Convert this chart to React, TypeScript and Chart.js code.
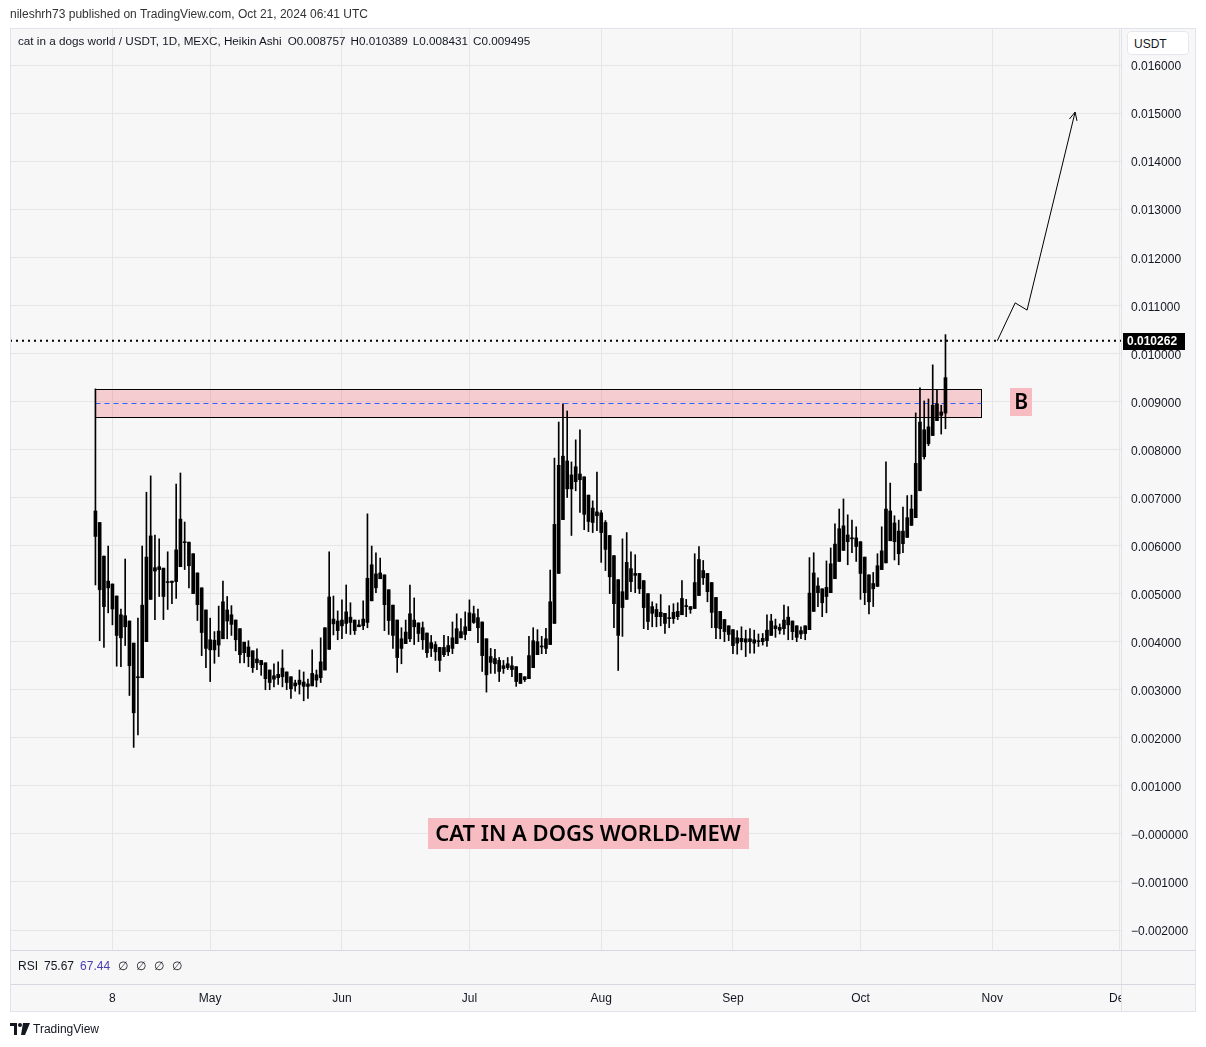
import React, { useEffect, useRef } from "react";
import { Chart, registerables } from "chart.js";

Chart.register(...registerables);

// Heikin Ashi daily candles, prices in thousandths of USDT (0.001). Day 0 = 2024-04-04.
const OPEN = [
  6.72, 6.48, 5.78, 5.26, 5.20, 4.95, 4.56, 4.31, 4.43, 3.97,
  3.25, 3.25, 4.00, 4.88, 5.54, 5.50, 5.53, 5.23, 5.26, 5.25,
  5.56, 6.06, 6.07, 5.83, 5.43, 5.12, 4.66, 4.04, 4.03, 3.93,
  4.06, 4.66, 4.56, 4.45, 4.27, 3.99, 3.89, 3.81, 3.64, 3.61,
  3.56, 3.41, 3.29, 3.25, 3.27, 3.37, 3.27, 3.14, 3.11, 3.16,
  3.12, 3.08, 3.31, 3.25, 3.41, 3.84, 4.47, 4.43, 4.33, 4.38,
  4.51, 4.45, 4.31, 4.33, 4.40, 4.85, 5.41, 5.31, 5.39, 5.08,
  4.76, 4.45, 4.06, 3.96, 4.06, 4.45, 4.39, 4.29, 4.18, 3.98,
  3.94, 3.88, 3.73, 3.92, 3.86, 3.96, 4.08, 4.15, 4.23, 4.40,
  4.50, 4.41, 4.06, 3.69, 3.65, 3.61, 3.50, 3.46, 3.50, 3.48,
  3.34, 3.27, 3.23, 3.46, 3.73, 3.89, 3.86, 3.94, 4.38, 5.42,
  6.54, 7.18, 7.47, 7.33, 7.49, 7.43, 7.05, 6.78, 6.62, 6.68,
  6.48, 6.21, 5.79, 5.29, 4.71, 4.88, 5.52, 5.42, 5.42, 5.27,
  5.00, 4.73, 4.67, 4.52, 4.59, 4.48, 4.48, 4.52, 4.56, 4.75,
  4.73, 4.69, 4.96, 5.48, 5.42, 5.23, 4.92, 4.63, 4.46, 4.33,
  4.25, 4.08, 4.00, 4.06, 4.00, 4.04, 4.00, 4.00, 4.02, 4.13,
  4.33, 4.30, 4.27, 4.35, 4.43, 4.33, 4.23, 4.17, 4.25, 4.63,
  5.16, 5.10, 4.94, 5.02, 5.31, 5.67, 5.90, 6.22, 6.14, 6.16,
  6.08, 5.76, 5.39, 5.10, 5.15, 5.50, 5.64, 6.10, 6.47, 6.30,
  6.04, 6.17, 6.42, 6.58, 7.14, 8.41, 8.12, 8.29, 8.60, 8.78,
  8.757,
];
const HIGH = [
  9.26, 6.48, 5.78, 5.99, 5.20, 4.95, 4.68, 5.72, 4.43, 3.97,
  4.49, 5.99, 7.11, 7.45, 6.22, 6.14, 5.53, 5.87, 5.26, 7.28,
  7.51, 6.49, 6.07, 5.83, 5.43, 5.12, 4.66, 4.49, 4.21, 4.74,
  5.26, 4.94, 4.75, 4.45, 4.27, 3.99, 4.02, 3.81, 3.85, 3.61,
  3.56, 3.41, 3.54, 3.58, 3.83, 3.37, 3.27, 3.20, 3.41, 3.37,
  3.22, 3.83, 3.41, 4.08, 4.29, 5.87, 4.95, 4.64, 4.87, 5.18,
  4.81, 4.45, 4.45, 4.85, 6.66, 5.99, 5.85, 5.74, 5.39, 5.08,
  4.76, 4.45, 4.29, 4.45, 5.18, 4.91, 4.39, 4.41, 4.18, 4.13,
  4.00, 3.88, 4.13, 4.11, 4.41, 4.58, 4.48, 4.62, 4.87, 4.74,
  4.68, 4.41, 4.06, 3.86, 3.84, 3.67, 3.61, 3.67, 3.69, 3.48,
  3.34, 3.27, 4.11, 4.29, 4.25, 4.11, 4.28, 5.49, 7.82, 8.57,
  8.95, 8.80, 7.74, 8.20, 8.41, 7.43, 7.05, 6.93, 7.53, 6.73,
  6.52, 6.21, 5.79, 5.29, 6.14, 6.27, 5.87, 5.81, 5.42, 5.27,
  5.00, 4.83, 4.79, 4.98, 4.59, 4.75, 4.79, 4.81, 5.27, 4.88,
  4.73, 5.83, 5.98, 5.69, 5.42, 5.23, 4.92, 4.63, 4.46, 4.33,
  4.25, 4.23, 4.31, 4.24, 4.27, 4.24, 4.16, 4.17, 4.56, 4.57,
  4.47, 4.37, 4.76, 4.73, 4.43, 4.33, 4.31, 4.33, 5.75, 5.85,
  5.33, 5.10, 5.68, 5.95, 6.45, 6.76, 6.97, 6.64, 6.53, 6.39,
  6.08, 5.76, 5.39, 5.44, 5.83, 6.39, 7.74, 7.30, 6.62, 6.53,
  6.80, 7.04, 7.05, 8.76, 9.28, 9.01, 9.05, 9.76, 9.24, 8.92,
  10.389,
];
const LOW = [
  5.18, 4.02, 3.88, 4.60, 4.35, 3.49, 3.48, 3.92, 2.88, 1.80,
  2.06, 3.25, 4.00, 4.88, 4.46, 4.94, 4.46, 4.67, 4.79, 4.90,
  5.56, 5.50, 5.12, 5.00, 4.44, 3.71, 3.46, 3.17, 3.55, 3.69,
  4.06, 4.06, 4.13, 3.81, 3.56, 3.56, 3.48, 3.36, 3.42, 3.30,
  3.00, 3.00, 3.06, 3.11, 3.06, 3.00, 2.82, 2.97, 2.91, 2.77,
  2.82, 3.08, 3.06, 3.15, 3.41, 3.84, 4.14, 4.04, 4.06, 4.17,
  4.15, 4.15, 4.31, 4.25, 4.29, 4.85, 5.02, 5.31, 4.23, 4.15,
  3.86, 3.36, 3.54, 3.96, 4.00, 3.94, 4.00, 3.84, 3.67, 3.69,
  3.61, 3.38, 3.69, 3.71, 3.75, 3.96, 4.08, 4.04, 4.23, 4.38,
  3.98, 3.38, 2.95, 3.34, 3.34, 3.17, 3.34, 3.42, 3.27, 3.07,
  3.13, 3.17, 3.23, 3.46, 3.73, 3.75, 3.75, 3.94, 4.38, 5.42,
  6.54, 7.00, 6.21, 7.14, 6.69, 6.33, 6.29, 6.27, 6.31, 5.65,
  5.48, 5.00, 4.29, 3.40, 4.11, 4.88, 5.04, 5.02, 5.00, 4.27,
  4.25, 4.31, 4.31, 4.33, 4.17, 4.29, 4.38, 4.46, 4.56, 4.52,
  4.59, 4.69, 4.96, 5.19, 4.83, 4.29, 4.06, 4.06, 4.00, 4.02,
  3.75, 3.74, 3.83, 3.69, 3.76, 3.76, 3.90, 3.93, 3.90, 4.13,
  4.09, 4.16, 4.15, 4.04, 4.04, 4.00, 4.06, 4.04, 4.25, 4.63,
  4.73, 4.52, 4.60, 5.02, 5.31, 5.67, 5.90, 5.60, 5.85, 5.67,
  4.88, 4.77, 4.58, 4.73, 5.15, 5.50, 5.64, 6.10, 5.70, 5.60,
  5.85, 6.17, 6.42, 6.58, 7.14, 7.80, 8.08, 8.29, 8.60, 8.32,
  8.431,
];
const CLOSE = [
  6.19, 5.08, 4.73, 5.12, 4.68, 4.13, 4.08, 4.54, 3.50, 2.52,
  3.27, 4.76, 5.76, 6.20, 5.47, 5.56, 4.94, 5.25, 5.23, 5.91,
  6.55, 6.08, 5.58, 5.00, 4.77, 4.19, 3.86, 3.83, 3.83, 4.22,
  4.83, 4.43, 4.36, 4.04, 3.73, 3.77, 3.69, 3.46, 3.56, 3.52,
  3.23, 3.15, 3.22, 3.32, 3.45, 3.15, 3.02, 3.08, 3.20, 3.07,
  3.07, 3.34, 3.20, 3.58, 4.29, 4.93, 4.37, 4.23, 4.45, 4.62,
  4.40, 4.23, 4.35, 4.47, 5.32, 5.60, 5.12, 5.43, 4.77, 4.44,
  4.13, 3.67, 3.86, 4.20, 4.58, 4.31, 4.17, 4.04, 3.77, 3.86,
  3.79, 3.61, 3.88, 3.79, 4.08, 4.27, 4.21, 4.31, 4.60, 4.58,
  4.29, 3.71, 3.31, 3.57, 3.54, 3.38, 3.44, 3.54, 3.42, 3.17,
  3.13, 3.21, 3.71, 4.02, 4.00, 3.91, 4.06, 4.83, 6.44, 7.67,
  7.86, 7.76, 7.18, 7.64, 7.37, 6.65, 6.50, 6.48, 6.70, 6.27,
  5.92, 5.35, 4.79, 4.13, 5.04, 5.65, 5.25, 5.38, 5.10, 4.71,
  4.42, 4.59, 4.52, 4.61, 4.38, 4.50, 4.61, 4.63, 4.90, 4.73,
  4.67, 5.23, 5.71, 5.33, 5.04, 4.61, 4.29, 4.27, 4.21, 4.15,
  3.92, 3.97, 4.07, 3.99, 4.06, 3.97, 4.02, 4.07, 4.24, 4.43,
  4.27, 4.24, 4.45, 4.51, 4.21, 4.09, 4.16, 4.33, 5.01, 5.43,
  5.02, 4.81, 5.13, 5.62, 6.03, 6.35, 6.41, 6.08, 6.16, 5.98,
  5.42, 5.02, 4.83, 5.21, 5.58, 5.89, 6.76, 6.72, 6.08, 5.83,
  6.30, 6.58, 6.76, 7.71, 8.57, 7.85, 8.47, 8.92, 8.95, 8.71,
  9.495,
];

// Axes
const X_MIN = -20.1;
const X_MAX = 241.3;
const X_TICK_POS = [4, 27, 58, 88, 119, 150, 180, 211, 241];
const X_TICK_LABELS = ["8", "May", "Jun", "Jul", "Aug", "Sep", "Oct", "Nov", "Dec"];
const Y_MIN = -2.416;
const Y_MAX = 16.77;
const Y_TICKS = [-2, -1, 0, 1, 2, 3, 4, 5, 6, 7, 8, 9, 10, 11, 12, 13, 14, 15, 16];
const Y_TICK_LABELS = [
  "\u22120.002000", "\u22120.001000", "\u22120.000000", "0.001000", "0.002000", "0.003000",
  "0.004000", "0.005000", "0.006000", "0.007000", "0.008000", "0.009000", "0.010000",
  "0.011000", "0.012000", "0.013000", "0.014000", "0.015000", "0.016000",
];

// Drawings
const ZONE_X = [0, 208.4];
const ZONE_Y = [8.68, 9.26];
const ZONE_MID = 8.97;
const LAST_PRICE = 10.262;
const LAST_PRICE_LABEL = "0.010262";
const ARROW_X = [212.2, 216.4, 219.2, 230.5];
const ARROW_Y = [10.262, 11.05, 10.9, 15.02];
const LABEL_B = { x: 217.8, y: 8.99, text: "B" };
const LABEL_TITLE = { x: 115.9, y: 0.0, text: "CAT IN A DOGS WORLD-MEW" };

const FONT = '"Liberation Sans", Arial, sans-serif';
const BG = "#f7f7f7";
const GRID = "#e6e6e6";

const decorPlugin = {
  id: "decor",
  beforeDraw(chart: any) {
    const { ctx, width, height } = chart;
    ctx.save();
    ctx.fillStyle = "#ffffff";
    ctx.fillRect(0, 0, width, height);
    ctx.fillStyle = BG;
    ctx.fillRect(10, 28, 1186, 984);
    ctx.restore();
  },
  beforeDatasetsDraw(chart: any) {
    const { ctx, chartArea } = chart;
    const xs = chart.scales.x;
    const ys = chart.scales.y;
    ctx.save();
    ctx.beginPath();
    ctx.rect(chartArea.left, chartArea.top, chartArea.right - chartArea.left, chartArea.bottom - chartArea.top);
    ctx.clip();
    const x0 = Math.round(xs.getPixelForValue(ZONE_X[0])) + 0.5;
    const x1 = Math.round(xs.getPixelForValue(ZONE_X[1])) + 0.5;
    const yT = Math.round(ys.getPixelForValue(ZONE_Y[1])) + 0.5;
    const yB = Math.round(ys.getPixelForValue(ZONE_Y[0])) + 0.5;
    ctx.fillStyle = "rgba(242, 54, 69, 0.22)";
    ctx.fillRect(x0, yT, x1 - x0, yB - yT);
    ctx.strokeStyle = "#000000";
    ctx.lineWidth = 1;
    ctx.strokeRect(x0, yT, x1 - x0, yB - yT);
    const ym = Math.round(ys.getPixelForValue(ZONE_MID)) + 0.5;
    ctx.strokeStyle = "#2962ff";
    ctx.setLineDash([5, 4]);
    ctx.beginPath();
    ctx.moveTo(x0, ym);
    ctx.lineTo(x1, ym);
    ctx.stroke();
    ctx.restore();
  },
  afterDatasetsDraw(chart: any) {
    const { ctx } = chart;
    const xs = chart.scales.x;
    const ys = chart.scales.y;
    ctx.save();
    // arrow head
    const n = ARROW_X.length;
    const px = xs.getPixelForValue(ARROW_X[n - 1]);
    const py = ys.getPixelForValue(ARROW_Y[n - 1]);
    const qx = xs.getPixelForValue(ARROW_X[n - 2]);
    const qy = ys.getPixelForValue(ARROW_Y[n - 2]);
    const ang = Math.atan2(py - qy, px - qx);
    const L = 9;
    ctx.strokeStyle = "#000";
    ctx.lineWidth = 1;
    ctx.beginPath();
    ctx.moveTo(px - L * Math.cos(ang - 0.45), py - L * Math.sin(ang - 0.45));
    ctx.lineTo(px, py);
    ctx.lineTo(px - L * Math.cos(ang + 0.45), py - L * Math.sin(ang + 0.45));
    ctx.stroke();

    // labels
    const drawLabel = (lab: any, font: string, w: number, h: number) => {
      const cx = xs.getPixelForValue(lab.x);
      const cy = ys.getPixelForValue(lab.y);
      ctx.fillStyle = "#f6bcc2";
      ctx.fillRect(Math.round(cx - w / 2), Math.round(cy - h / 2), w, h);
      ctx.fillStyle = "#000";
      ctx.font = font;
      ctx.textAlign = "center";
      ctx.textBaseline = "middle";
      ctx.fillText(lab.text, cx, cy + 1);
    };
    drawLabel(LABEL_B, '600 21px "Noto Sans", sans-serif', 22, 28);
    drawLabel(LABEL_TITLE, '600 22px "Noto Sans", sans-serif', 321, 31);
    ctx.restore();
  },
  afterDraw(chart: any) {
    const { ctx } = chart;
    const ys = chart.scales.y;
    ctx.save();
    // cover time-axis overflow into price column
    ctx.fillStyle = BG;
    ctx.fillRect(1122, 985, 74, 27);
    ctx.lineWidth = 1;
    ctx.strokeStyle = "#e0e3eb";
    ctx.beginPath();
    ctx.moveTo(1121.5, 28);
    ctx.lineTo(1121.5, 1012);
    ctx.stroke();
    ctx.strokeStyle = "#d6d6e4";
    ctx.beginPath();
    ctx.moveTo(10, 950.5);
    ctx.lineTo(1196, 950.5);
    ctx.moveTo(10, 984.5);
    ctx.lineTo(1196, 984.5);
    ctx.stroke();
    ctx.strokeStyle = "#e0e3eb";
    ctx.strokeRect(10.5, 28.5, 1185, 983);
    // last price label
    const y = Math.round(ys.getPixelForValue(LAST_PRICE));
    ctx.fillStyle = "#000";
    ctx.fillRect(1123, y - 8, 62, 17);
    ctx.fillStyle = "#fff";
    ctx.font = `bold 12px ${FONT}`;
    ctx.textAlign = "left";
    ctx.textBaseline = "middle";
    ctx.fillText(LAST_PRICE_LABEL, 1127, y + 1);
    ctx.restore();
  },
};

export default function App() {
  const canvasRef = useRef<HTMLCanvasElement | null>(null);

  useEffect(() => {
    if (!canvasRef.current) return;
    const wickData = HIGH.map((h, i) => ({ x: i, y: [LOW[i], h] }));
    const bodyData = OPEN.map((o, i) => ({ x: i, y: [o, CLOSE[i]] }));
    const chart = new Chart(canvasRef.current, {
      type: "bar",
      data: {
        datasets: [
          {
            type: "line",
            data: [
              { x: X_MIN, y: LAST_PRICE },
              { x: X_MAX, y: LAST_PRICE },
            ],
            borderColor: "#000",
            borderWidth: 2,
            borderDash: [2, 4],
            pointRadius: 0,
            order: 3,
          } as any,
          {
            type: "line",
            data: ARROW_X.map((x, i) => ({ x, y: ARROW_Y[i] })),
            borderColor: "#000",
            borderWidth: 1,
            pointRadius: 0,
            tension: 0,
            order: 3,
          } as any,
          {
            type: "bar",
            data: wickData,
            backgroundColor: "#000",
            borderWidth: 0,
            barThickness: 1,
            grouped: false,
            order: 2,
          } as any,
          {
            type: "bar",
            data: bodyData,
            backgroundColor: "#000",
            borderWidth: 0,
            barThickness: 3,
            minBarLength: 1,
            grouped: false,
            order: 1,
          } as any,
        ],
      },
      options: {
        animation: false,
        responsive: false,
        maintainAspectRatio: false,
        events: [],
        layout: { padding: { left: 10, top: 28, right: 10, bottom: 35 } },
        plugins: { legend: { display: false }, tooltip: { enabled: false } },
        scales: {
          x: {
            type: "linear",
            min: X_MIN,
            max: X_MAX,
            offset: false,
            grid: { color: GRID, drawTicks: false, offset: false },
            border: { display: false },
            afterBuildTicks: (s: any) => {
              s.ticks = X_TICK_POS.map((v) => ({ value: v }));
            },
            afterFit: (s: any) => {
              s.height = 62;
            },
            ticks: {
              autoSkip: false,
              maxRotation: 0,
              padding: 41,
              color: "#131722",
              font: { family: FONT, size: 12 },
              callback: (_v: any, i: number) => X_TICK_LABELS[i],
            },
          },
          y: {
            type: "linear",
            position: "right",
            min: Y_MIN,
            max: Y_MAX,
            grid: { color: GRID, drawTicks: false },
            border: { display: false },
            afterBuildTicks: (s: any) => {
              s.ticks = Y_TICKS.map((v) => ({ value: v }));
            },
            afterFit: (s: any) => {
              s.width = 75;
            },
            ticks: {
              padding: 10,
              labelOffset: 2,
              color: "#131722",
              font: { family: FONT, size: 12 },
              callback: (_v: any, i: number) => Y_TICK_LABELS[i],
            },
          },
        },
      } as any,
      plugins: [decorPlugin],
    });
    return () => chart.destroy();
  }, []);

  const txt: React.CSSProperties = {
    position: "absolute",
    fontFamily: FONT,
    fontSize: 12,
    color: "#131722",
    whiteSpace: "pre",
    lineHeight: "14px",
  };

  return (
    <div style={{ position: "absolute", left: 0, top: 0, width: 1206, height: 1047, background: "#fff" }}>
      <canvas ref={canvasRef} width={1206} height={1047} style={{ position: "absolute", left: 0, top: 0, width: 1206, height: 1047 }} />
      <div style={{ ...txt, left: 10, top: 7, color: "#333" }}>
        nileshrh73 published on TradingView.com, Oct 21, 2024 06:41 UTC
      </div>
      <div style={{ ...txt, left: 18, top: 34, fontSize: 11.7 }}>
        <span>cat in a dogs world / USDT, 1D, MEXC, Heikin Ashi</span>
        <span style={{ marginLeft: 6 }}>O0.008757</span>
        <span style={{ marginLeft: 5 }}>H0.010389</span>
        <span style={{ marginLeft: 5 }}>L0.008431</span>
        <span style={{ marginLeft: 5 }}>C0.009495</span>
      </div>
      <div
        style={{
          ...txt,
          left: 1127,
          top: 31,
          width: 62,
          height: 24,
          lineHeight: "24px",
          background: "#fff",
          border: "1px solid #e6e8ee",
          borderRadius: 4,
          paddingLeft: 6,
          boxSizing: "border-box",
        }}
      >
        USDT
      </div>
      <div style={{ ...txt, left: 18, top: 959 }}>
        <span>RSI</span>
        <span style={{ marginLeft: 6 }}>75.67</span>
        <span style={{ marginLeft: 6, color: "#4a3fb0" }}>67.44</span>
        <span style={{ marginLeft: 8 }}>{"\u2205"}</span>
        <span style={{ marginLeft: 8 }}>{"\u2205"}</span>
        <span style={{ marginLeft: 8 }}>{"\u2205"}</span>
        <span style={{ marginLeft: 8 }}>{"\u2205"}</span>
      </div>
      <div style={{ ...txt, left: 10, top: 1022, display: "flex", alignItems: "center", color: "#131722" }}>
        <svg width="20" height="12" viewBox="0 0 20 12" style={{ marginRight: 3 }}>
          <path d="M0 0 H7 V12 H4 V3 H0 Z" fill="#131722" />
          <circle cx="10" cy="2" r="2" fill="#131722" />
          <path d="M13 0 H20 L15 12 H11 Z" fill="#131722" />
        </svg>
        <span>TradingView</span>
      </div>
    </div>
  );
}
